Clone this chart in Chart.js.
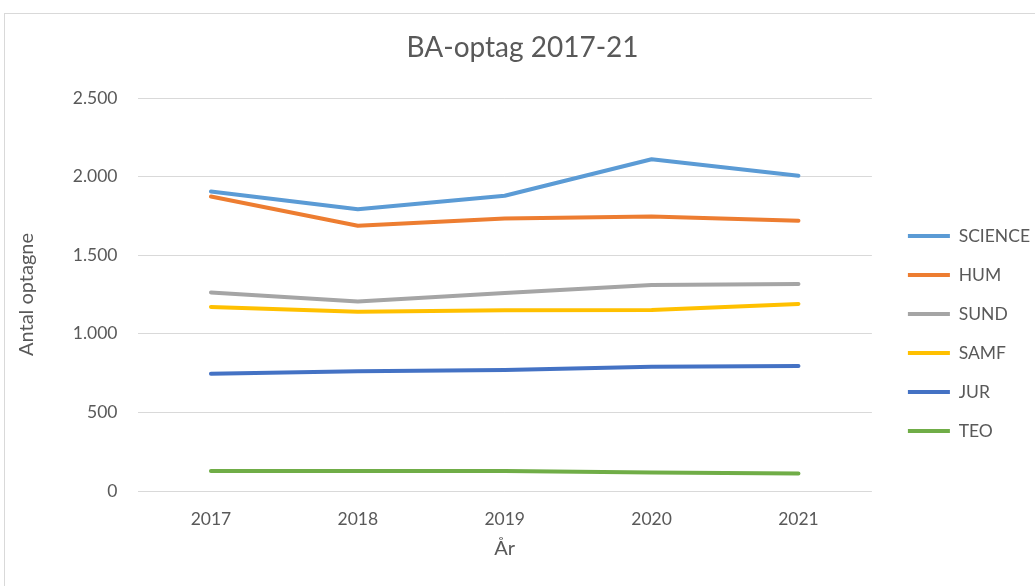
<!DOCTYPE html>
<html>
<head>
<meta charset="utf-8">
<script src="https://cdn.jsdelivr.net/npm/chart.js@4"></script>
<style>
  html, body { margin: 0; padding: 0; background: #ffffff; overflow: hidden; width: 1035px; height: 586px; }
  #frame { position: absolute; left: 4px; top: 13px; border: 1px solid #d9d9d9; width: 1045px; height: 639px; background: #fff; }
  canvas { display: block; }
</style>
</head>
<body>
<div id="frame"><canvas id="c" width="1045" height="639"></canvas></div>
<script>
const titleText = 'BA-optag 2017-21';
const xTitle = 'År';
const yTitle = 'Antal optagne';
const years = ['2017', '2018', '2019', '2020', '2021'];
const yTickLabels = ['0', '500', '1.000', '1.500', '2.000', '2.500'];
const seriesNames = ['SCIENCE', 'HUM', 'SUND', 'SAMF', 'JUR', 'TEO'];
const seriesColors = ['#5B9BD5', '#ED7D31', '#A5A5A5', '#FFC000', '#4472C4', '#70AD47'];
const science = [1905, 1793, 1878, 2110, 2005];
const hum = [1873, 1687, 1734, 1746, 1719];
const sund = [1263, 1206, 1260, 1311, 1317];
const samf = [1171, 1140, 1150, 1152, 1190];
const jur = [746, 761, 770, 791, 795];
const teo = [127, 127, 127, 118, 112];
const seriesValues = [science, hum, sund, samf, jur, teo];

const FONT = 'Lato, "Open Sans", "Liberation Sans", sans-serif';
const TXT = '#595959';

const datasets = seriesNames.map((name, i) => ({
  label: name,
  data: seriesValues[i],
  borderColor: seriesColors[i],
  backgroundColor: seriesColors[i],
  borderWidth: 4,
  borderCapStyle: 'round',
  borderJoinStyle: 'round',
  pointRadius: 0,
  pointHoverRadius: 0,
  pointStyle: 'line',
  tension: 0,
  fill: false,
  yAxisID: 'y',
  order: seriesNames.length - i
}));

new Chart(document.getElementById('c'), {
  type: 'line',
  data: { labels: years, datasets: datasets },
  options: {
    responsive: false,
    animation: false,
    devicePixelRatio: 1,
    layout: { padding: { top: 0, bottom: 0, left: 0, right: 10 } },
    plugins: {
      tooltip: { enabled: false },
      title: {
        display: true,
        text: titleText,
        color: TXT,
        font: { family: FONT, size: 28, weight: 'normal' },
        padding: { top: 17, bottom: 33.4 }
      },
      legend: {
        position: 'right',
        align: 'center',
        labels: {
          usePointStyle: true,
          pointStyleWidth: 42,
          padding: 21.5,
          color: TXT,
          font: { family: FONT, size: 17.5 },
          sort: (a, b) => a.datasetIndex - b.datasetIndex
        }
      }
    },
    scales: {
      y: {
        position: 'left',
        min: 0,
        max: 2500,
        ticks: {
          stepSize: 500,
          padding: 20,
          color: TXT,
          font: { family: FONT, size: 17.5 },
          callback: (v, i) => yTickLabels[i]
        },
        grid: { color: '#d9d9d9', lineWidth: 1, drawTicks: false },
        border: { display: false },
        title: {
          display: true,
          text: yTitle,
          color: TXT,
          font: { family: FONT, size: 20 },
          padding: { top: 10, bottom: 0 }
        },
        afterFit: (s) => { s.width = 132.5; }
      },
      yPad: {
        position: 'right',
        display: true,
        grid: { display: false },
        border: { display: false },
        ticks: { display: false },
        afterFit: (s) => { s.width = 14.5; }
      },
      x: {
        offset: true,
        grid: { display: false, drawTicks: false },
        border: { display: false },
        ticks: {
          padding: 17.5,
          color: TXT,
          font: { family: FONT, size: 17.5 }
        },
        title: {
          display: true,
          text: xTitle,
          color: TXT,
          font: { family: FONT, size: 20 },
          padding: { top: 9, bottom: 92 }
        },
        afterFit: (s) => { s.height = 162; }
      }
    }
  }
});
</script>
</body>
</html>
